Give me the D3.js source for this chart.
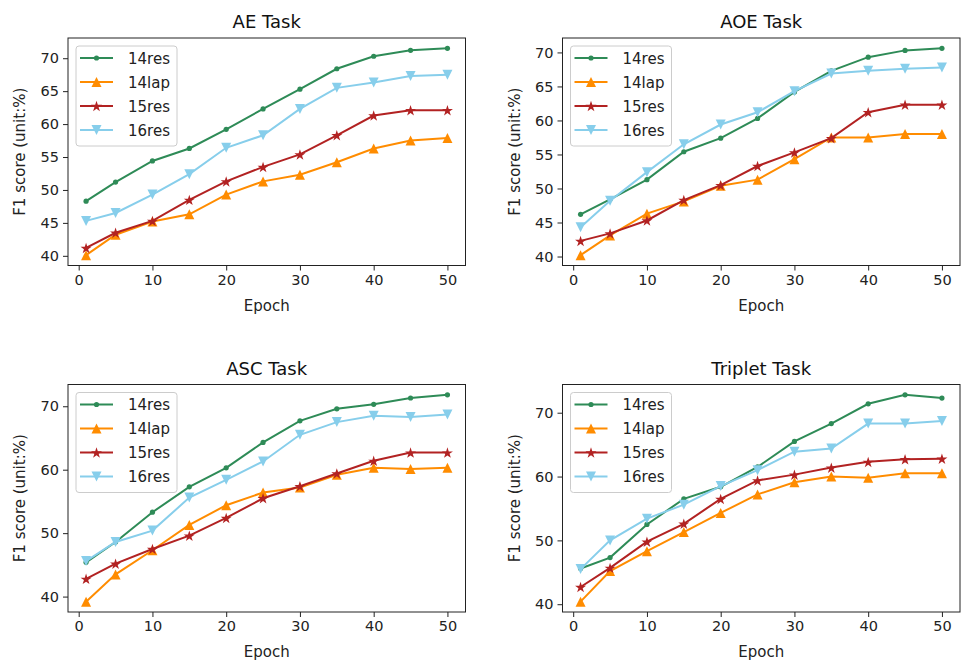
<!DOCTYPE html>
<html>
<head>
<meta charset="utf-8">
<script src="https://cdn.jsdelivr.net/npm/d3@7"></script>
<style>
  body { margin: 0; background: #fff; }
  svg { font-family: "DejaVu Sans", sans-serif; }
</style>
</head>
<body>
<div id="chart"></div>
<script>
// epochs on the x axis
const epochs = [1, 5, 10, 15, 20, 25, 30, 35, 40, 45, 50];
const seriesNames = ["14res", "14lap", "15res", "16res"];
const xTicks = [0, 10, 20, 30, 40, 50];

// AE Task
const ae14res = [48.3, 51.2, 54.4, 56.3, 59.2, 62.3, 65.3, 68.4, 70.3, 71.2, 71.5];
const ae14lap = [40.1, 43.2, 45.2, 46.3, 49.3, 51.3, 52.3, 54.2, 56.3, 57.5, 57.9];
const ae15res = [41.2, 43.5, 45.3, 48.5, 51.3, 53.5, 55.4, 58.3, 61.3, 62.1, 62.1];
const ae16res = [45.3, 46.5, 49.3, 52.4, 56.4, 58.3, 62.3, 65.5, 66.3, 67.3, 67.5];
const aeTicks = [40, 45, 50, 55, 60, 65, 70];

// AOE Task
const aoe14res = [46.2, 48.4, 51.3, 55.4, 57.4, 60.3, 64.2, 67.3, 69.3, 70.3, 70.6];
const aoe14lap = [40.2, 43.1, 46.3, 48.1, 50.4, 51.3, 54.3, 57.5, 57.5, 58.0, 58.0];
const aoe15res = [42.3, 43.4, 45.3, 48.3, 50.5, 53.3, 55.3, 57.4, 61.2, 62.3, 62.3];
const aoe16res = [44.3, 48.2, 52.4, 56.5, 59.4, 61.2, 64.3, 66.9, 67.3, 67.6, 67.8];
const aoeTicks = [40, 45, 50, 55, 60, 65, 70];

// ASC Task
const asc14res = [45.4, 48.6, 53.3, 57.3, 60.3, 64.3, 67.7, 69.6, 70.3, 71.3, 71.8];
const asc14lap = [39.2, 43.5, 47.3, 51.3, 54.4, 56.4, 57.2, 59.2, 60.3, 60.1, 60.3];
const asc15res = [42.8, 45.2, 47.5, 49.6, 52.4, 55.5, 57.4, 59.4, 61.4, 62.7, 62.7];
const asc16res = [45.6, 48.6, 50.4, 55.6, 58.4, 61.3, 65.5, 67.5, 68.5, 68.3, 68.7];
const ascTicks = [40, 50, 60, 70];

// Triplet Task
const tri14res = [45.6, 47.3, 52.5, 56.5, 58.4, 61.5, 65.5, 68.3, 71.4, 72.8, 72.3];
const tri14lap = [40.4, 45.2, 48.3, 51.3, 54.3, 57.2, 59.1, 60.0, 59.8, 60.5, 60.5];
const tri15res = [42.7, 45.7, 49.8, 52.6, 56.5, 59.4, 60.3, 61.4, 62.3, 62.7, 62.8];
const tri16res = [45.5, 50.0, 53.4, 55.6, 58.5, 61.0, 63.9, 64.4, 68.3, 68.3, 68.7];
const triTicks = [40, 50, 60, 70];

const colors = { "14res": "#2e8b57", "14lap": "#ff8c00", "15res": "#b22222", "16res": "#87ceeb" };

const panels = [
  { title: "AE Task", left: 68, top: 38, ticks: aeTicks, data: [ae14res, ae14lap, ae15res, ae16res] },
  { title: "AOE Task", left: 562.5, top: 38, ticks: aoeTicks, data: [aoe14res, aoe14lap, aoe15res, aoe16res] },
  { title: "ASC Task", left: 68, top: 384.5, ticks: ascTicks, data: [asc14res, asc14lap, asc15res, asc16res] },
  { title: "Triplet Task", left: 562.5, top: 384.5, ticks: triTicks, data: [tri14res, tri14lap, tri15res, tri16res] }
];

const pw = 397.5, ph = 227.5;

const svg = d3.select("#chart").append("svg")
  .attr("width", 963)
  .attr("height", 661);

// marker shapes, like matplotlib's '.', '^', '*', 'v'
function markerPath(name) {
  const r = 5;
  if (name === "14res") return d3.symbol(d3.symbolCircle, Math.PI * 2.6 * 2.6)();
  if (name === "14lap") return `M0,${-r}L${r},${r}L${-r},${r}Z`;
  if (name === "16res") return `M0,${r}L${r},${-r}L${-r},${-r}Z`;
  // star
  const pts = [];
  for (let i = 0; i < 10; i++) {
    const rad = i % 2 === 0 ? 5.8 : 5.8 * 0.382;
    const a = -Math.PI / 2 + i * Math.PI / 5;
    pts.push([rad * Math.cos(a), rad * Math.sin(a) + 0.6]);
  }
  return "M" + pts.map(p => p.join(",")).join("L") + "Z";
}

panels.forEach(p => {
  const g = svg.append("g").attr("transform", `translate(${p.left},${p.top})`);

  const all = p.data.flat();
  const [lo, hi] = d3.extent(all);
  const pad = (hi - lo) * 0.05;
  const xPad = (50 - 1) * 0.05;

  const x = d3.scaleLinear().domain([1 - xPad, 50 + xPad]).range([0, pw]);
  const y = d3.scaleLinear().domain([lo - pad, hi + pad]).range([ph, 0]);

  const xAxis = d3.axisBottom(x).tickValues(xTicks).tickSize(5).tickPadding(4);
  const yAxis = d3.axisLeft(y).tickValues(p.ticks).tickSize(5).tickPadding(4);

  const gx = g.append("g").attr("transform", `translate(0,${ph})`).call(xAxis);
  const gy = g.append("g").call(yAxis);
  [gx, gy].forEach(a => {
    a.select(".domain").remove();
    a.selectAll("line").attr("stroke", "#222").attr("stroke-width", 1);
    a.selectAll("text").attr("fill", "#222").style("font-size", "14.5px").style("font-family", "DejaVu Sans");
  });

  const line = d3.line().x((d, i) => x(epochs[i])).y(d => y(d));

  p.data.forEach((vals, si) => {
    const name = seriesNames[si];
    g.append("path")
      .datum(vals)
      .attr("fill", "none")
      .attr("stroke", colors[name])
      .attr("stroke-width", 2)
      .attr("d", line);
    g.selectAll(null)
      .data(vals)
      .join("path")
      .attr("transform", (d, i) => `translate(${x(epochs[i])},${y(d)})`)
      .attr("d", markerPath(name))
      .attr("fill", colors[name]);
  });

  // frame
  g.append("rect")
    .attr("width", pw).attr("height", ph)
    .attr("fill", "none").attr("stroke", "#222").attr("stroke-width", 1);

  // title + axis labels
  g.append("text")
    .attr("x", pw / 2).attr("y", -10)
    .attr("text-anchor", "middle")
    .style("font-size", "18px")
    .attr("fill", "#111")
    .text(p.title);

  g.append("text")
    .attr("x", pw / 2).attr("y", ph + 45)
    .attr("text-anchor", "middle")
    .style("font-size", "15px")
    .attr("fill", "#222")
    .text("Epoch");

  g.append("text")
    .attr("transform", `translate(-43,${ph / 2}) rotate(-90)`)
    .attr("text-anchor", "middle")
    .style("font-size", "15px")
    .attr("fill", "#222")
    .text("F1 score (unit:%)");

  // legend
  const lg = g.append("g").attr("transform", "translate(8,8)");
  lg.append("rect")
    .attr("width", 101).attr("height", 100)
    .attr("rx", 3)
    .attr("fill", "#fff").attr("fill-opacity", 0.8)
    .attr("stroke", "#ccc");
  seriesNames.forEach((name, i) => {
    const cy = 12 + i * 24;
    lg.append("line")
      .attr("x1", 4).attr("x2", 37)
      .attr("y1", cy).attr("y2", cy)
      .attr("stroke", colors[name]).attr("stroke-width", 2);
    lg.append("path")
      .attr("transform", `translate(20.5,${cy})`)
      .attr("d", markerPath(name))
      .attr("fill", colors[name]);
    lg.append("text")
      .attr("x", 52).attr("y", cy + 5.5)
      .style("font-size", "15px")
      .attr("fill", "#222")
      .text(name);
  });
});
</script>
</body>
</html>
